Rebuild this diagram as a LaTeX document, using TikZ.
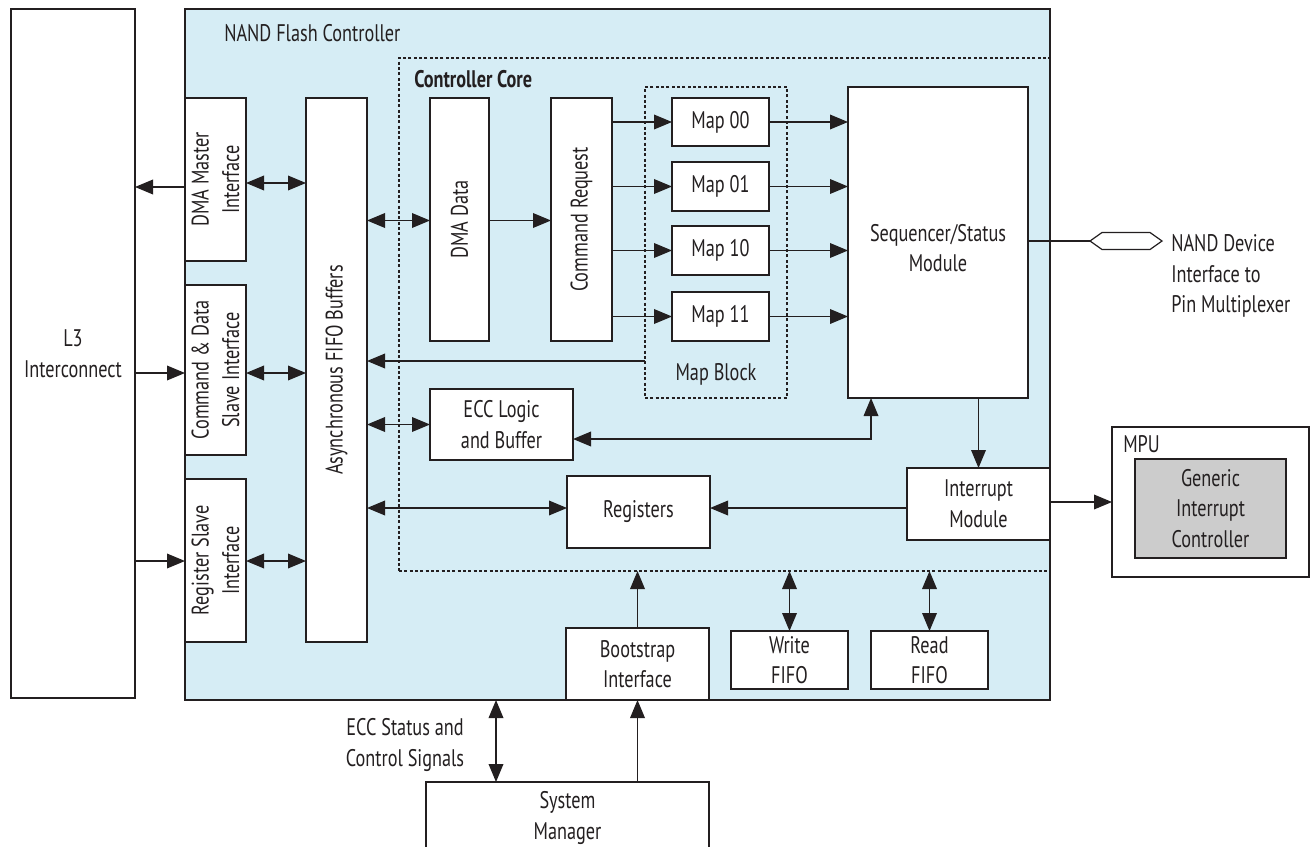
\documentclass[tikz,border=0pt]{standalone}
\usepackage{fontspec}
\setmainfont{PT Sans}[FakeStretch=0.76]
\usetikzlibrary{arrows.meta,calc}
\definecolor{nfcblue}{RGB}{214,237,245}
\definecolor{ink}{RGB}{35,31,32}
\definecolor{gicgray}{RGB}{204,204,204}
\newcommand\txtfont{\fontsize{18}{23}\selectfont}
\begin{document}
\begin{tikzpicture}[x=0.75pt,y=-0.75pt,
  every node/.style={font=\txtfont, text=ink},
  blk/.style n args={4}{minimum width={(#3-#1)*0.75pt}, minimum height={(#4-#2)*0.75pt},
     at={({(#1+#3)/2},{(#2+#4)/2})}},
  box/.style={draw=ink, line width=1.3pt, fill=white, inner sep=0pt, outer sep=0pt, align=center},
  dotbox/.style={draw=ink, line width=1pt, inner sep=0pt, outer sep=0pt, dash pattern=on 2.2pt off 1.8pt},
  txt/.style={inner sep=0pt, align=center},
  conn/.style={draw=ink, line width=1pt},
  arr/.style={conn, -{Triangle[length=13.5pt,width=11pt]}},
  dbl/.style={conn, {Triangle[length=13.5pt,width=11pt]}-{Triangle[length=13.5pt,width=11pt]}},
]
\useasboundingbox (0,0) rectangle (1312,846);

% outer blocks
\node[box, blk={11}{9}{135}{698}] (l3) {L3\\Interconnect};
\node[box, fill=nfcblue, blk={185}{9}{1050}{700}] (nfc) {};
\node[txt, anchor=base west] (nfct) at (224,41) {NAND Flash Controller};
\node[dotbox, blk={399}{58}{1050}{571}] (core) {};
\node[txt, anchor=base west, font=\txtfont\bfseries] (coret) at (414,87) {Controller Core};
\node[dotbox, blk={645}{87}{787}{398}] (mapblk) {};
\node[txt, anchor=base] (mapblkt) at (716,380) {Map Block};

% interface blocks
\node[box, blk={185}{98}{246}{261}] (dmam) {};
\node[txt, rotate=90] (dmamt) at (dmam.center) {DMA Master\\Interface};
\node[box, blk={185}{285}{246}{455}] (cds) {};
\node[txt, rotate=90] (cdst) at (cds.center) {Command \& Data\\Slave Interface};
\node[box, blk={185}{479}{246}{642}] (rsi) {};
\node[txt, rotate=90] (rsit) at (rsi.center) {Register Slave\\Interface};
\node[box, blk={306}{98}{367}{642}] (fifo) {};
\node[txt, rotate=90] (fifot) at (fifo.center) {Asynchronous FIFO Buffers};

% core blocks
\node[box, blk={430}{98}{489}{341}] (dmad) {};
\node[txt, rotate=90] (dmadt) at (dmad.center) {DMA Data};
\node[box, blk={551}{98}{612}{341}] (cmdr) {};
\node[txt, rotate=90] (cmdrt) at (cmdr.center) {Command Request};
\node[box, blk={672}{98}{769}{146}] (m00) {Map 00};
\node[box, blk={672}{162}{769}{211}] (m01) {Map 01};
\node[box, blk={672}{226}{769}{275}] (m10) {Map 10};
\node[box, blk={672}{292}{769}{341}] (m11) {Map 11};
\node[box, blk={848}{87}{1028}{398}] (seq) {};
\node[txt] (seqt) at (938,248) {Sequencer/Status\\Module};
\node[box, blk={430}{389}{573}{460}] (ecc) {ECC Logic\\and Buffer};
\node[box, blk={567}{476}{710}{548}] (reg) {Registers};
\node[box, blk={907}{468}{1050}{540}] (intm) {Interrupt\\Module};

% bottom blocks
\node[box, blk={566}{628}{709}{700}] (boot) {Bootstrap\\Interface};
\node[box, blk={731}{631}{848}{689}] (wfifo) {Write\\FIFO};
\node[box, blk={871}{631}{988}{689}] (rfifo) {Read\\FIFO};
\node[box, blk={426}{782}{709}{854}] (sysm) {System\\Manager};

% MPU
\node[box, blk={1112}{427}{1309}{577}] (mpu) {};
\node[txt, anchor=base west] (mput) at (1123,452) {MPU};
\node[box, fill=gicgray, blk={1135}{459}{1286}{558}] (gic) {Generic\\Interrupt\\Controller};

% labels
\node[txt, anchor=west, align=left] (nandt) at (1171,276) {NAND Device\\Interface to\\Pin Multiplexer};
\node[txt] (ecct) at (405,745) {ECC Status and\\Control Signals};

% level coordinates
\coordinate (yA) at (0,187);
\coordinate (yB) at (0,183);
\coordinate (yC) at (0,373);
\coordinate (yD) at (0,561);
\coordinate (yE) at (0,220.5);
\coordinate (yF) at (0,361);
\coordinate (yG) at (0,439);
\coordinate (yH) at (0,508);
\coordinate (yI) at (0,502);
\coordinate (yJ) at (0,241);
\coordinate (xG) at (871,0);
\coordinate (xS) at (496,0);

% connectors
\draw[arr] (dmam.west |- yA) -- (l3.east |- yA);
\draw[dbl] (dmam.east |- yB) -- (fifo.west |- yB);
\draw[arr] (l3.east |- yC) -- (cds.west |- yC);
\draw[dbl] (cds.east |- yC) -- (fifo.west |- yC);
\draw[arr] (l3.east |- yD) -- (rsi.west |- yD);
\draw[dbl] (rsi.east |- yD) -- (fifo.west |- yD);
\draw[dbl] (fifo.east |- yE) -- (dmad.west |- yE);
\draw[arr] (dmad.east |- yE) -- (cmdr.west |- yE);
\foreach \m in {m00,m01,m10,m11}{
  \draw[arr] (cmdr.east |- \m.west) -- (\m.west);
  \draw[arr] (\m.east) -- (seq.west |- \m.east);
}
\draw[arr] (mapblk.west |- yF) -- (fifo.east |- yF);
\draw[dbl] (fifo.east |- ecc.west) -- (ecc.west);
\draw[dbl] (ecc.east |- yG) -- (xG |- yG) -- (seq.south -| xG);
\draw[dbl] (fifo.east |- yH) -- (reg.west |- yH);
\draw[arr] (intm.west |- yH) -- (reg.east |- yH);
\draw[arr] (seq.south -| intm.north) -- (intm.north);
\draw[arr] (intm.east |- yI) -- (mpu.west |- yI);
\draw[dbl] (core.south -| wfifo.north) -- (wfifo.north);
\draw[dbl] (core.south -| rfifo.north) -- (rfifo.north);
\draw[arr] (boot.north) -- (core.south -| boot.north);
\draw[arr] (sysm.north -| boot.south) -- (boot.south);
\draw[dbl] (sysm.north -| xS) -- (nfc.south -| xS);

% NAND device interface (hexagon bus symbol)
\coordinate (hexl) at (1090,241);
\coordinate (hexr) at (1162,241);
\draw[conn] (seq.east |- yJ) -- (hexl);
\draw[conn, line width=0.9pt] (hexl) -- ++(12,-8.5) -- ++(48,0) -- (hexr) -- ++(-12,8.5) -- ++(-48,0) -- cycle;
\end{tikzpicture}
\end{document}
